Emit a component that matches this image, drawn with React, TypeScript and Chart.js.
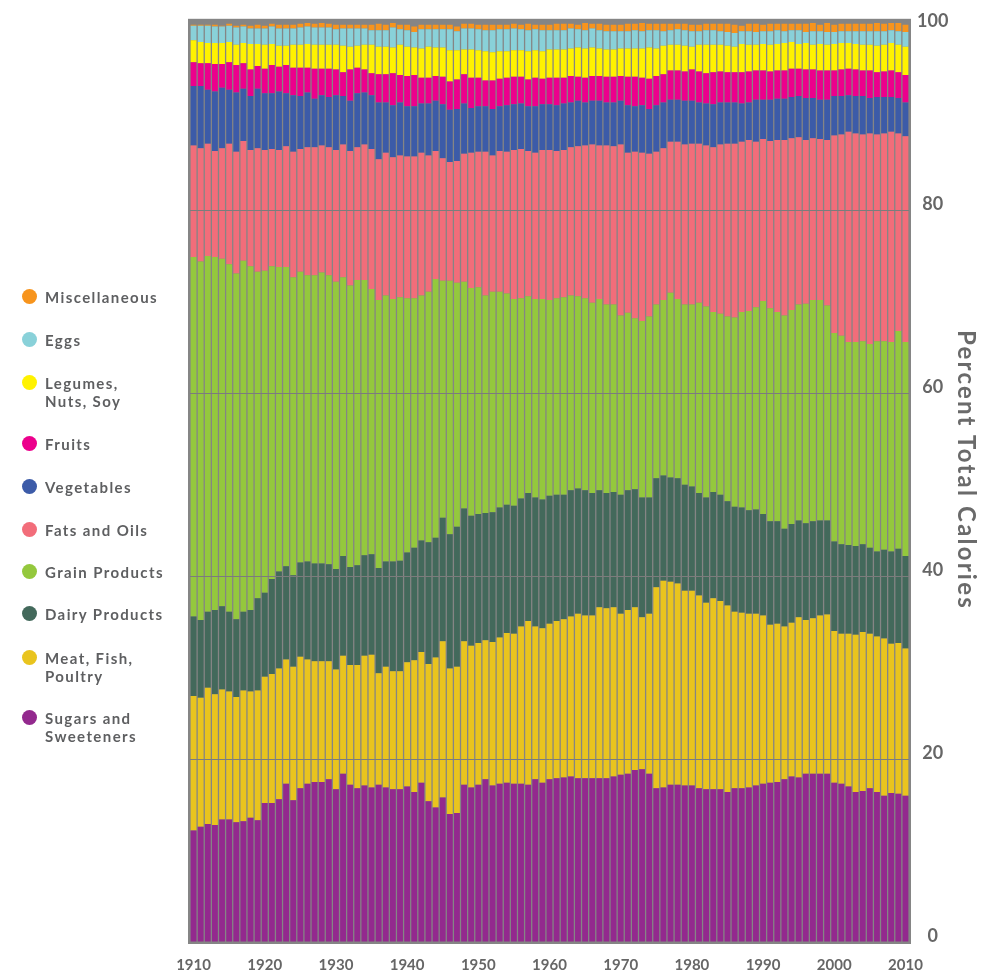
import React, { useEffect, useRef } from 'react';
import { Chart, registerables } from 'chart.js';

Chart.register(...registerables);

// Categories: one bar per year
const years: number[] = Array.from({ length: 101 }, (_, i) => 1910 + i);

// Cumulative percent of total calories at the top of each band
const cumSugars = [
  12.2, 12.6, 12.9, 12.8, 13.4, 13.4, 13.1, 13.2, 13.6, 13.3,
  15.2, 15.2, 15.6, 17.3, 15.5, 16.8, 17.3, 17.5, 17.5, 17.8,
  16.7, 18.4, 17.2, 16.8, 17.1, 16.9, 17.2, 16.9, 16.7, 16.7,
  17.0, 16.4, 17.4, 15.4, 14.7, 15.8, 14.0, 14.1, 17.2, 16.9,
  17.2, 17.8, 17.1, 17.3, 17.4, 17.3, 17.3, 17.2, 17.8, 17.4,
  17.8, 17.9, 18.0, 18.1, 17.9, 17.9, 17.9, 17.9, 17.9, 18.1,
  18.3, 18.4, 18.8, 18.9, 18.4, 16.8, 16.9, 17.2, 17.2, 17.1,
  17.1, 16.8, 16.7, 16.7, 16.7, 16.4, 16.8, 16.8, 16.9, 17.1,
  17.3, 17.4, 17.5, 17.8, 18.1, 18.0, 18.4, 18.4, 18.4, 18.4,
  17.4, 17.3, 17.0, 16.4, 16.5, 16.8, 16.4, 16.0, 16.3, 16.2,
  16.0,
];
const cumMeat = [
  26.9, 26.7, 27.8, 27.1, 27.6, 27.4, 26.8, 27.5, 27.4, 27.5,
  29.0, 29.3, 29.9, 30.9, 30.1, 31.2, 30.9, 30.7, 30.7, 30.7,
  29.8, 31.3, 30.3, 30.3, 31.3, 31.4, 29.4, 30.1, 29.6, 29.6,
  30.6, 30.8, 31.7, 30.4, 31.1, 32.9, 29.9, 30.1, 32.9, 32.4,
  32.7, 33.0, 32.8, 33.3, 33.8, 33.7, 34.5, 35.1, 34.5, 34.3,
  34.8, 35.1, 35.3, 35.6, 35.9, 35.7, 35.7, 36.6, 36.5, 36.6,
  35.9, 36.3, 36.6, 35.5, 35.9, 38.8, 39.5, 39.4, 39.2, 38.4,
  38.4, 37.9, 37.1, 37.6, 37.3, 36.8, 36.1, 36.0, 35.9, 35.9,
  35.7, 34.7, 34.8, 34.5, 34.9, 35.5, 35.2, 35.4, 35.7, 35.8,
  34.0, 33.7, 33.7, 33.6, 33.9, 33.7, 33.4, 33.2, 32.6, 32.7,
  32.1,
];
const cumDairy = [
  35.6, 35.2, 36.1, 36.3, 36.7, 36.1, 35.3, 36.1, 36.3, 37.6,
  38.2, 39.7, 40.5, 41.1, 40.1, 41.5, 41.6, 41.4, 41.4, 41.3,
  40.8, 42.2, 41.0, 41.2, 42.3, 42.4, 40.9, 41.6, 41.6, 41.7,
  42.6, 43.1, 43.9, 43.7, 44.2, 46.4, 44.6, 45.4, 47.4, 46.6,
  46.8, 46.9, 47.0, 47.5, 47.8, 47.7, 48.5, 49.1, 48.6, 48.4,
  48.8, 48.9, 48.9, 49.4, 49.6, 49.4, 49.1, 49.4, 49.1, 49.2,
  48.9, 49.4, 49.5, 48.6, 48.6, 50.7, 51.0, 50.8, 50.7, 50.0,
  49.8, 49.1, 48.6, 49.2, 48.9, 48.2, 47.6, 47.5, 47.2, 47.3,
  46.8, 46.0, 46.0, 45.2, 45.7, 46.1, 45.8, 46.0, 46.1, 46.1,
  43.8, 43.5, 43.4, 43.3, 43.5, 43.1, 42.7, 42.9, 42.7, 43.0,
  42.2,
];
const cumGrain = [
  74.9, 74.4, 75.0, 74.9, 74.7, 74.1, 73.1, 74.5, 73.9, 73.3,
  73.4, 73.9, 73.8, 73.8, 72.7, 73.3, 72.9, 72.9, 73.2, 72.9,
  72.2, 72.7, 71.8, 72.4, 72.4, 71.4, 70.2, 70.7, 70.3, 70.5,
  70.4, 70.4, 70.7, 71.1, 72.5, 72.3, 72.3, 72.1, 72.2, 71.5,
  71.6, 70.7, 71.1, 71.1, 70.9, 70.3, 70.4, 70.6, 70.3, 70.3,
  70.2, 70.4, 70.5, 70.7, 70.6, 70.4, 69.9, 70.3, 69.7, 69.7,
  68.5, 68.8, 68.2, 67.9, 68.4, 69.7, 70.2, 71.0, 70.3, 69.7,
  69.7, 69.9, 69.5, 68.9, 68.7, 68.4, 68.3, 68.9, 69.0, 69.4,
  70.1, 69.3, 68.9, 68.5, 69.1, 69.7, 69.8, 70.2, 70.2, 69.6,
  66.6, 66.3, 65.6, 65.6, 65.7, 65.4, 65.7, 65.7, 65.6, 66.8,
  65.6,
];
const cumFats = [
  87.1, 86.8, 87.3, 86.5, 86.8, 87.3, 86.4, 87.6, 86.6, 86.8,
  86.6, 86.7, 86.6, 87.0, 86.4, 86.7, 86.9, 86.9, 87.1, 86.9,
  86.6, 87.2, 86.5, 86.9, 87.2, 86.7, 85.6, 86.3, 85.8, 86.0,
  85.9, 85.9, 86.3, 86.0, 86.5, 85.7, 85.3, 85.4, 86.2, 86.3,
  86.4, 86.4, 86.0, 86.5, 86.4, 86.6, 86.7, 86.5, 86.3, 86.6,
  86.6, 86.5, 86.6, 86.9, 87.0, 87.1, 87.2, 87.1, 87.1, 87.0,
  87.2, 86.3, 86.4, 86.3, 86.2, 86.4, 86.8, 87.5, 87.5, 87.2,
  87.3, 87.3, 87.1, 86.9, 87.2, 87.3, 87.3, 87.5, 87.7, 87.5,
  87.8, 87.6, 87.7, 87.7, 87.9, 88.0, 87.7, 87.9, 87.8, 87.7,
  88.2, 88.3, 88.6, 88.4, 88.3, 88.4, 88.3, 88.4, 88.6, 88.4,
  88.1,
];
const cumVegetables = [
  93.6, 93.6, 93.2, 93.0, 93.4, 93.2, 92.9, 93.3, 92.5, 93.3,
  92.8, 92.8, 93.0, 92.8, 92.6, 92.5, 92.9, 92.2, 92.6, 92.4,
  92.6, 92.5, 92.0, 92.8, 92.9, 92.6, 91.8, 91.8, 91.5, 91.8,
  91.4, 91.4, 91.7, 91.7, 92.0, 91.6, 91.0, 91.1, 91.7, 91.2,
  91.4, 91.4, 91.1, 91.4, 91.5, 91.6, 91.7, 91.4, 91.4, 91.6,
  91.6, 91.5, 91.7, 91.8, 92.0, 91.8, 92.0, 92.0, 91.8, 91.8,
  92.0, 91.5, 91.4, 91.5, 91.1, 91.5, 91.8, 92.1, 92.1, 92.0,
  92.0, 91.8, 91.7, 91.6, 91.8, 91.8, 91.8, 91.7, 91.8, 92.1,
  92.1, 92.1, 92.2, 92.2, 92.4, 92.5, 92.3, 92.3, 92.1, 92.1,
  92.5, 92.5, 92.6, 92.5, 92.5, 92.3, 92.4, 92.4, 92.4, 92.3,
  91.8,
];
const cumFruits = [
  96.2, 96.1, 96.1, 96.0, 96.0, 96.2, 95.9, 96.1, 95.4, 95.8,
  95.5, 95.9, 95.7, 95.9, 95.6, 95.6, 95.6, 95.5, 95.5, 95.5,
  95.4, 95.1, 95.4, 95.6, 95.4, 95.0, 94.9, 94.9, 95.0, 94.8,
  94.7, 94.8, 94.5, 94.5, 94.7, 94.6, 94.1, 94.3, 94.9, 94.5,
  94.5, 94.2, 94.2, 94.4, 94.5, 94.6, 94.6, 94.3, 94.5, 94.4,
  94.5, 94.5, 94.5, 94.7, 94.6, 94.5, 94.7, 94.7, 94.6, 94.6,
  94.7, 94.6, 94.6, 94.5, 94.4, 94.7, 94.9, 95.3, 95.3, 95.2,
  95.4, 95.2, 95.0, 95.1, 95.2, 95.1, 95.1, 95.1, 95.2, 95.3,
  95.3, 95.2, 95.3, 95.3, 95.5, 95.5, 95.4, 95.4, 95.3, 95.3,
  95.3, 95.4, 95.5, 95.4, 95.3, 95.3, 95.1, 95.2, 95.3, 95.1,
  94.8,
];
const cumLegumes = [
  98.6, 98.4, 98.3, 98.3, 98.3, 98.4, 98.1, 98.3, 98.2, 98.2,
  98.1, 98.2, 98.0, 98.0, 98.1, 98.1, 98.2, 98.1, 98.1, 98.1,
  98.1, 98.0, 97.9, 98.0, 98.1, 98.1, 97.9, 97.9, 97.8, 98.1,
  97.9, 97.8, 97.7, 97.9, 97.8, 97.8, 97.5, 97.5, 97.6, 97.6,
  97.5, 97.4, 97.3, 97.4, 97.4, 97.5, 97.5, 97.4, 97.5, 97.4,
  97.6, 97.6, 97.6, 97.7, 97.8, 97.7, 97.8, 97.7, 97.6, 97.6,
  97.7, 97.7, 97.7, 97.7, 97.8, 97.7, 98.0, 98.1, 98.1, 98.0,
  97.9, 98.1, 98.1, 98.1, 98.1, 98.0, 97.9, 98.2, 98.1, 98.1,
  98.2, 98.1, 98.2, 98.3, 98.4, 98.2, 98.3, 98.1, 98.2, 98.1,
  98.2, 98.3, 98.3, 98.2, 98.1, 98.1, 98.0, 98.1, 98.3, 98.1,
  97.9,
];
const cumEggs = [
  100.2, 100.2, 100.2, 100.1, 100.1, 100.2, 100.0, 100.1, 99.9, 99.9,
  99.9, 100.1, 99.9, 99.9, 99.9, 100.0, 100.1, 100.0, 100.0, 100.0,
  99.8, 99.9, 99.9, 99.9, 99.9, 99.7, 99.7, 99.7, 100.0, 99.8,
  99.7, 99.5, 99.8, 99.8, 99.8, 99.8, 99.8, 99.6, 99.9, 99.9,
  99.8, 99.7, 99.7, 99.8, 99.8, 99.9, 99.8, 99.7, 99.8, 99.7,
  99.7, 99.7, 99.7, 99.9, 99.8, 99.7, 99.9, 99.7, 99.6, 99.6,
  99.6, 99.6, 99.7, 99.6, 99.7, 99.7, 99.6, 99.7, 99.8, 99.7,
  99.6, 99.6, 99.7, 99.7, 99.6, 99.5, 99.4, 99.6, 99.6, 99.5,
  99.6, 99.6, 99.7, 99.6, 99.7, 99.7, 99.5, 99.6, 99.6, 99.5,
  99.5, 99.6, 99.6, 99.6, 99.6, 99.6, 99.6, 99.6, 99.7, 99.6,
  99.5,
];
const cumMisc = [
  100.3, 100.3, 100.3, 100.3, 100.2, 100.4, 100.2, 100.3, 100.2, 100.3,
  100.2, 100.4, 100.3, 100.3, 100.3, 100.4, 100.5, 100.4, 100.5, 100.4,
  100.3, 100.3, 100.3, 100.3, 100.3, 100.3, 100.4, 100.3, 100.5, 100.3,
  100.3, 100.1, 100.3, 100.3, 100.3, 100.3, 100.3, 100.1, 100.4, 100.4,
  100.3, 100.3, 100.3, 100.3, 100.3, 100.4, 100.3, 100.4, 100.3, 100.3,
  100.3, 100.4, 100.4, 100.4, 100.3, 100.5, 100.4, 100.4, 100.3, 100.3,
  100.3, 100.4, 100.4, 100.5, 100.4, 100.4, 100.4, 100.4, 100.4, 100.4,
  100.3, 100.3, 100.4, 100.4, 100.4, 100.4, 100.3, 100.2, 100.4, 100.4,
  100.3, 100.4, 100.4, 100.4, 100.4, 100.4, 100.4, 100.5, 100.3, 100.5,
  100.3, 100.4, 100.4, 100.4, 100.4, 100.4, 100.5, 100.4, 100.5, 100.5,
  100.3,
];

const yTicks = [0, 20, 40, 60, 80, 100];

const GRAY = '#858585';
const TEXT = '#666666';

// bottom to top
const bands = [
  { label: 'Sugars and Sweeteners', color: '#93298E', top: cumSugars },
  { label: 'Meat, Fish, Poultry', color: '#E9C41E', top: cumMeat },
  { label: 'Dairy Products', color: '#43695B', top: cumDairy },
  { label: 'Grain Products', color: '#94C83D', top: cumGrain },
  { label: 'Fats and Oils', color: '#F26D7A', top: cumFats },
  { label: 'Vegetables', color: '#3C5BA8', top: cumVegetables },
  { label: 'Fruits', color: '#EC008C', top: cumFruits },
  { label: 'Legumes, Nuts, Soy', color: '#FFF200', top: cumLegumes },
  { label: 'Eggs', color: '#89D1D9', top: cumEggs },
  { label: 'Miscellaneous', color: '#F7941D', top: cumMisc },
];

const legendItems = [
  { lines: ['Miscellaneous'], color: '#F7941D', cy: 296 },
  { lines: ['Eggs'], color: '#89D1D9', cy: 339 },
  { lines: ['Legumes,', 'Nuts, Soy'], color: '#FFF200', cy: 382 },
  { lines: ['Fruits'], color: '#EC008C', cy: 443 },
  { lines: ['Vegetables'], color: '#3C5BA8', cy: 486 },
  { lines: ['Fats and Oils'], color: '#F26D7A', cy: 529 },
  { lines: ['Grain Products'], color: '#94C83D', cy: 571 },
  { lines: ['Dairy Products'], color: '#43695B', cy: 613 },
  { lines: ['Meat, Fish,', 'Poultry'], color: '#E9C41E', cy: 657 },
  { lines: ['Sugars and', 'Sweeteners'], color: '#93298E', cy: 717 },
];

const plotBackground = {
  id: 'plotBackground',
  beforeDatasetsDraw(chart: any) {
    const { ctx, chartArea } = chart;
    ctx.save();
    ctx.fillStyle = GRAY;
    ctx.fillRect(chartArea.left - 2, chartArea.top, chartArea.right - chartArea.left + 4, chartArea.bottom - chartArea.top + 2);
    ctx.restore();
  },
};

export default function App() {
  const canvasRef = useRef<HTMLCanvasElement | null>(null);

  useEffect(() => {
    const canvas = canvasRef.current;
    if (!canvas) return;
    const datasets = bands.map((b, k) => ({
      label: b.label,
      data: years.map((_, i) => [k === 0 ? 0 : bands[k - 1].top[i], b.top[i]]),
      backgroundColor: b.color,
      borderWidth: 0,
      grouped: false,
      barPercentage: 0.82,
      categoryPercentage: 1,
    }));

    const chart = new Chart(canvas, {
      type: 'bar',
      data: { labels: years.map(String), datasets: datasets as any },
      options: {
        animation: false,
        responsive: false,
        maintainAspectRatio: false,
        layout: { padding: { left: 190, top: 14, right: 0, bottom: 0 } },
        plugins: { legend: { display: false }, tooltip: { enabled: false } },
        scales: {
          x: {
            grid: { display: false },
            border: { display: false },
            ticks: {
              autoSkip: false,
              maxRotation: 0,
              minRotation: 0,
              padding: 6,
              color: TEXT,
              font: { family: 'Lato', size: 15, weight: 'bold' },
              callback: (_v: any, i: number) => (years[i] % 10 === 0 ? String(years[i]) : ''),
            },
            afterFit: (s: any) => {
              s.height = 28;
            },
          },
          y: {
            position: 'right',
            min: 0,
            max: 100.95,
            border: { display: false },
            grid: {
              z: 1,
              drawTicks: false,
              lineWidth: 1,
              color: (c: any) => (c.tick && (c.tick.value === 0 || c.tick.value === 100) ? 'rgba(0,0,0,0)' : '#7c7c7c'),
            },
            afterBuildTicks: (s: any) => {
              s.ticks = yTicks.map((v) => ({ value: v }));
            },
            ticks: {
              includeBounds: false,
              padding: 8,
              crossAlign: 'center',
              labelOffset: -6,
              color: TEXT,
              font: { family: 'Lato', size: 18, weight: 'bold' },
            },
            afterFit: (s: any) => {
              s.width = 89;
            },
          },
        },
      } as any,
      plugins: [plotBackground],
    });

    if ((document as any).fonts && (document as any).fonts.ready) {
      (document as any).fonts.ready.then(() => {
        try { chart.update(); } catch (e) { /* ignore */ }
      });
    }
    return () => chart.destroy();
  }, []);

  return (
    <div style={{ position: 'absolute', left: 0, top: 0, width: 998, height: 970, background: '#ffffff', fontFamily: 'Lato, sans-serif' }}>
      <canvas ref={canvasRef} width={998} height={970} style={{ position: 'absolute', left: 0, top: 0, width: 998, height: 970 }} />
      {legendItems.map((it) => (
        <React.Fragment key={it.lines.join(' ')}>
          <div style={{ position: 'absolute', left: 21.5, top: it.cy - 7.5, width: 15, height: 15, borderRadius: '50%', background: it.color }} />
          <div style={{ position: 'absolute', left: 45, top: it.cy - 8, fontSize: 15, lineHeight: '18px', fontWeight: 700, letterSpacing: '1.4px', color: '#5e5f61', whiteSpace: 'nowrap' }}>
            {it.lines.map((l) => (
              <div key={l}>{l}</div>
            ))}
          </div>
        </React.Fragment>
      ))}
      <div style={{ position: 'absolute', left: 967, top: 470, transform: 'translate(-50%, -50%)', writingMode: 'vertical-rl', whiteSpace: 'nowrap', fontSize: 24, fontWeight: 700, letterSpacing: '2.2px', color: '#6a6a6a' }}>
        Percent Total Calories
      </div>
    </div>
  );
}
